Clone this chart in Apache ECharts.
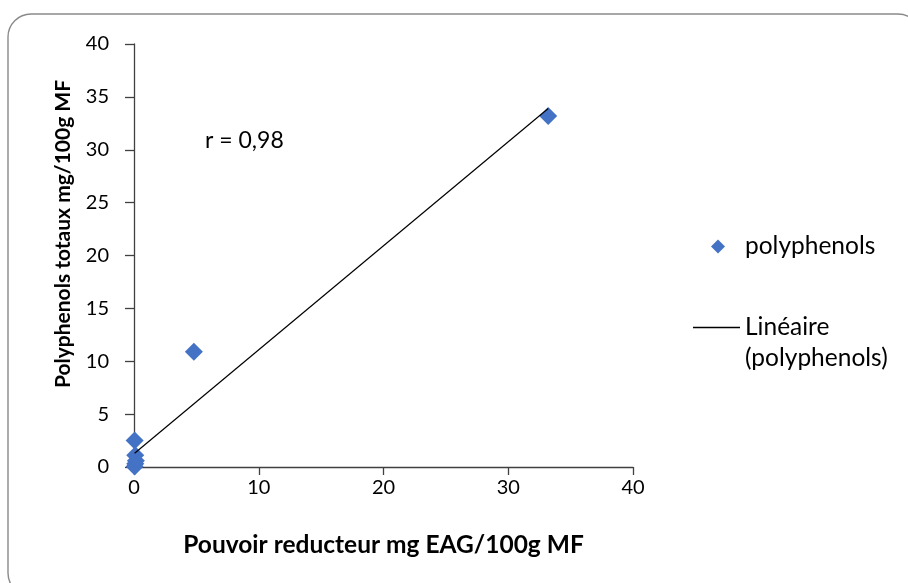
<!DOCTYPE html>
<html>
<head>
<meta charset="utf-8">
<script src="https://cdn.jsdelivr.net/npm/echarts@6/dist/echarts.min.js"></script>
<style>html,body{margin:0;padding:0;background:#fff}#c{width:908px;height:583px}</style>
</head>
<body>
<div id="c"></div>
<script>
// Data
var pouvoirReducteur = [0.05, 0.1, 0.15, 0.1, 0.05, 4.8, 33.2];
var polyphenols      = [2.5, 1.1, 0.6, 0.3, 0.05, 10.9, 33.2];
var trendX = [0.05, 33.2];
var trendY = [1.3, 33.9];
var xTicks = [0, 10, 20, 30, 40];
var yTicks = [0, 5, 10, 15, 20, 25, 30, 35, 40];
var annotation = 'r = 0,98';
var yTitle = 'Polyphenols totaux mg/100g MF';
var xTitle = 'Pouvoir reducteur mg EAG/100g MF';

var FONT = 'Lato, "Open Sans", sans-serif';
var scatterData = pouvoirReducteur.map(function (x, i) { return [x, polyphenols[i]]; });
var trendData = trendX.map(function (x, i) { return [x, trendY[i]]; });

var chart = echarts.init(document.getElementById('c'), null, { renderer: 'canvas' });
chart.setOption({
  animation: false,
  backgroundColor: '#fff',
  textStyle: { fontFamily: FONT },
  grid: { left: 134, right: 275, top: 44, bottom: 116, containLabel: false },
  xAxis: {
    type: 'value', min: xTicks[0], max: xTicks[xTicks.length - 1], interval: 10,
    name: xTitle, nameLocation: 'middle', nameGap: 66,
    nameTextStyle: { fontFamily: FONT, fontWeight: 'bold', fontSize: 24.5, color: '#000' },
    axisLine: { show: true, onZero: false, lineStyle: { color: '#404040', width: 1.3 } },
    axisTick: { show: true, inside: false, length: 8, lineStyle: { color: '#404040', width: 1.3 } },
    axisLabel: { fontFamily: FONT, fontSize: 20, color: '#000', margin: 11 },
    splitLine: { show: false }
  },
  yAxis: {
    type: 'value', min: yTicks[0], max: yTicks[yTicks.length - 1], interval: 5,
    axisLine: { show: true, onZero: false, lineStyle: { color: '#404040', width: 1.3 } },
    axisTick: { show: true, inside: false, length: 9, lineStyle: { color: '#404040', width: 1.3 } },
    axisLabel: { fontFamily: FONT, fontSize: 20, color: '#000', margin: 25 },
    splitLine: { show: false }
  },
  legend: [
    {
      data: [{ name: 'polyphenols', icon: 'diamond' }],
      left: 706, top: 226, itemWidth: 14, itemHeight: 14,
      textStyle: { fontFamily: FONT, fontSize: 24.5, color: '#000', lineHeight: 31, padding: [0, 0, 0, 15] }
    },
    {
      data: [{ name: 'Linéaire (polyphenols)', icon: 'rect' }],
      formatter: function () { return '\u00a0\nLinéaire\n(polyphenols)'; },
      left: 688, top: 276, itemWidth: 47, itemHeight: 1.3,
      textStyle: { fontFamily: FONT, fontSize: 24.5, color: '#000', lineHeight: 31, padding: [0, 0, 0, 0] }
    }
  ],
  graphic: [
    {
      type: 'rect', silent: true, z: -1,
      shape: { x: 8, y: 14, width: 913, height: 582, r: 23 },
      style: { fill: 'none', stroke: '#8a8a8a', lineWidth: 1.4 }
    },
    {
      type: 'text', left: 205, top: 129,
      style: { text: annotation, font: '23px ' + FONT, fill: '#000' }
    },
    {
      type: 'text', x: 63, y: 234, rotation: Math.PI / 2,
      style: { text: yTitle, font: 'bold 21px ' + FONT, fill: '#000', align: 'center', verticalAlign: 'middle' }
    }
  ],
  series: [
    {
      name: 'polyphenols', type: 'scatter', data: scatterData,
      symbol: 'diamond', symbolSize: 18,
      itemStyle: { color: '#4472C4', opacity: 1 }, z: 2
    },
    {
      name: 'Linéaire (polyphenols)', type: 'line', data: trendData,
      symbol: 'none', showSymbol: false,
      lineStyle: { color: '#000', width: 1.2 },
      itemStyle: { color: '#000' }, z: 3
    }
  ]
});
</script>
</body>
</html>
